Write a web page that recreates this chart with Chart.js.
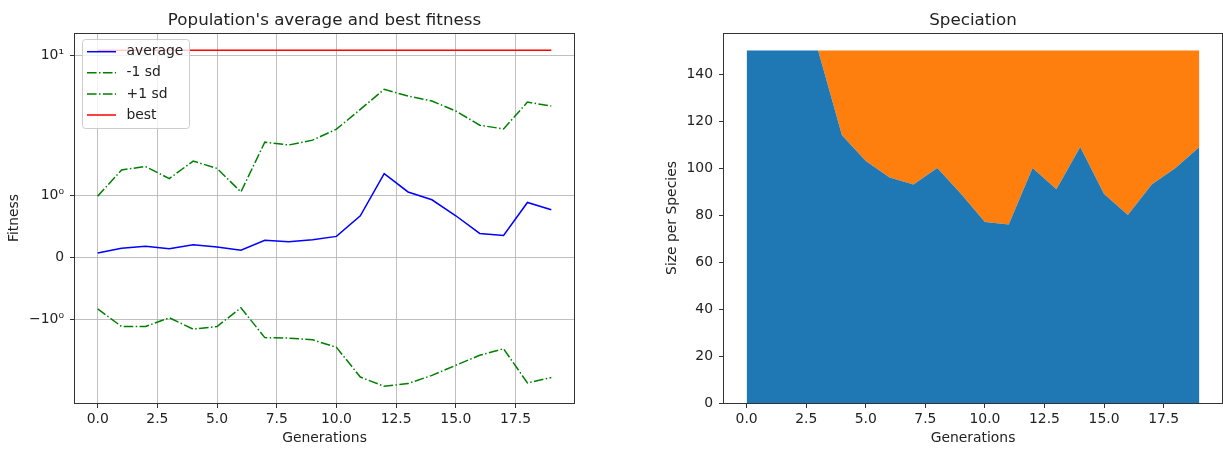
<!DOCTYPE html>
<html>
<head>
<meta charset="utf-8">
<script src="https://cdn.jsdelivr.net/npm/chart.js@4.4.0/dist/chart.umd.min.js"></script>
<style>
  body { margin: 0; background: #fff; }
  canvas { position: absolute; top: 0; }
  #fitnessChart { left: 0; }
  #speciesChart { left: 611px; }
</style>
</head>
<body>
<canvas id="fitnessChart" width="611" height="450"></canvas>
<canvas id="speciesChart" width="612" height="450"></canvas>
<script>
// Data
const generations = [0, 1, 2, 3, 4, 5, 6, 7, 8, 9, 10, 11, 12, 13, 14, 15, 16, 17, 18, 19];
const avgFitness = [0.075, 0.150, 0.182, 0.144, 0.209, 0.171, 0.118, 0.278, 0.257, 0.289,
                    0.342, 0.674, 1.43, 1.06, 0.931, 0.674, 0.390, 0.358, 0.888, 0.770];
const minusSd = [-0.824, -1.116, -1.116, -0.968, -1.166, -1.116, -0.807, -1.34, -1.35, -1.39,
                 -1.57, -2.56, -2.98, -2.85, -2.49, -2.11, -1.79, -1.61, -2.82, -2.58];
const plusSd = [0.99, 1.52, 1.61, 1.32, 1.76, 1.56, 1.06, 2.40, 2.29, 2.48,
                2.97, 4.11, 5.71, 5.11, 4.71, 4.00, 3.17, 2.98, 4.63, 4.34];
const bestFitness = [10.86, 10.86, 10.86, 10.86, 10.86, 10.86, 10.86, 10.86, 10.86, 10.86,
                     10.86, 10.86, 10.86, 10.86, 10.86, 10.86, 10.86, 10.86, 10.86, 10.86];
const species1 = [150, 150, 150, 150, 114, 103, 96, 93, 100, 89, 77, 76, 100, 91, 109, 89, 80, 93, 100, 109];
const species2 = [0, 0, 0, 0, 36, 47, 54, 57, 50, 61, 73, 74, 50, 59, 41, 61, 70, 57, 50, 41];

const genTicks = [0, 2.5, 5, 7.5, 10, 12.5, 15, 17.5];
const fitnessTicks = [-1, 0, 1, 10];
const fitnessTickLabels = ['\u221210\u2070', '0', '10\u2070', '10\u00b9'];
const sizeTicks = [0, 20, 40, 60, 80, 100, 120, 140];

const FONT = '"DejaVu Sans", sans-serif';
const TEXT = '#222';

// symlog scale, linear between -1 and 1
const SYMLOG_DECADE = 2.258;
function symT(v) {
    const a = Math.abs(v);
    return a <= 1 ? v : Math.sign(v) * (1 + SYMLOG_DECADE * Math.log10(a));
}
function symInv(t) {
    const a = Math.abs(t);
    return a <= 1 ? t : Math.sign(t) * Math.pow(10, (a - 1) / SYMLOG_DECADE);
}

class SymlogScale extends Chart.LinearScale {
    configure() {
        super.configure();
        this._t0 = symT(this.min);
        this._t1 = symT(this.max);
    }
    getPixelForValue(value) {
        return this.getPixelForDecimal((symT(value) - this._t0) / (this._t1 - this._t0));
    }
    getValueForPixel(pixel) {
        return symInv(this._t0 + this.getDecimalForPixel(pixel) * (this._t1 - this._t0));
    }
}
SymlogScale.id = 'symlog';
Chart.register(SymlogScale);

// frame, axes title and legend like matplotlib
const mplDecor = {
    id: 'mplDecor',
    afterDraw(chart, args, opts) {
        const { ctx, chartArea: a } = chart;
        ctx.save();
        ctx.strokeStyle = '#333';
        ctx.lineWidth = 1;
        ctx.strokeRect(Math.round(a.left) - 0.5, Math.round(a.top) + 0.5,
                       Math.round(a.right - a.left) + 1, Math.round(a.bottom - a.top));

        ctx.fillStyle = TEXT;
        ctx.font = '16.7px ' + FONT;
        ctx.textAlign = 'center';
        ctx.textBaseline = 'alphabetic';
        ctx.fillText(opts.title, (a.left + a.right) / 2, 25);

        if (opts.legend) {
            ctx.beginPath();
            ctx.roundRect(82.5, 39.5, 107, 89, 3);
            ctx.fillStyle = 'rgba(255,255,255,0.8)';
            ctx.fill();
            ctx.strokeStyle = '#cccccc';
            ctx.stroke();
            ctx.font = '13.9px ' + FONT;
            ctx.textAlign = 'left';
            ctx.textBaseline = 'middle';
            chart.data.datasets.forEach((ds, i) => {
                const y = 51.7 + i * 21.1;
                ctx.strokeStyle = ds.borderColor;
                ctx.lineWidth = ds.borderWidth;
                ctx.setLineDash(ds.borderDash || []);
                ctx.beginPath();
                ctx.moveTo(87, y);
                ctx.lineTo(116, y);
                ctx.stroke();
                ctx.setLineDash([]);
                ctx.fillStyle = TEXT;
                ctx.fillText(ds.label, 126.5, y);
            });
        }
        ctx.restore();
    }
};

const font = { family: FONT, size: 13.9 };
const dashDot = [9.6, 2.4, 1.5, 2.4];

function xAxis(gridOn) {
    return {
        type: 'linear',
        min: -0.95,
        max: 19.95,
        afterBuildTicks: s => { s.ticks = genTicks.map(v => ({ value: v })); },
        afterFit: s => { s.height = 47; },
        ticks: { font, color: TEXT, padding: 3, maxRotation: 0, callback: v => v.toFixed(1) },
        grid: { display: true, drawOnChartArea: gridOn, color: '#b0b0b0', lineWidth: 0.8,
                tickLength: 5, tickColor: '#333', tickWidth: 1 },
        border: { display: false },
        title: { display: true, text: 'Generations', font, color: TEXT, padding: { top: 0, bottom: 3 } }
    };
}

function series(label, values, color, dash) {
    return {
        label,
        data: generations.map((g, i) => ({ x: g, y: values[i] })),
        borderColor: color,
        borderWidth: 1.5,
        borderDash: dash,
        pointRadius: 0,
        tension: 0,
        fill: false
    };
}

// Population fitness chart
new Chart(document.getElementById('fitnessChart'), {
    type: 'line',
    data: {
        datasets: [
            series('average', avgFitness, '#0000ff', []),
            series('-1 sd', minusSd, '#008000', dashDot),
            series('+1 sd', plusSd, '#008000', dashDot),
            series('best', bestFitness, '#ff0000', [])
        ]
    },
    options: {
        responsive: false,
        animation: false,
        layout: { padding: { left: 0, right: 37, top: 33, bottom: 0 } },
        plugins: {
            legend: { display: false },
            tooltip: { enabled: false },
            mplDecor: { title: "Population's average and best fitness", legend: true }
        },
        scales: {
            x: xAxis(true),
            y: {
                type: 'symlog',
                bounds: 'data',
                min: symInv(-2.339),
                max: symInv(3.615),
                afterBuildTicks: s => { s.ticks = fitnessTicks.map(v => ({ value: v })); },
                afterFit: s => { s.width = 75; },
                ticks: { font, color: TEXT, padding: 6, callback: (v, i) => fitnessTickLabels[i] },
                grid: { color: '#b0b0b0', lineWidth: 0.8, tickLength: 5, tickColor: '#333', tickWidth: 1 },
                border: { display: false },
                title: { display: true, text: 'Fitness', font, color: TEXT, padding: { top: 6, bottom: 0 } }
            }
        }
    },
    plugins: [mplDecor]
});

// Speciation chart
new Chart(document.getElementById('speciesChart'), {
    type: 'line',
    data: {
        datasets: [
            {
                label: 'species 1',
                data: generations.map((g, i) => ({ x: g, y: species1[i] })),
                backgroundColor: '#1f77b4',
                borderWidth: 0,
                pointRadius: 0,
                fill: 'origin'
            },
            {
                label: 'species 2',
                data: generations.map((g, i) => ({ x: g, y: species2[i] })),
                backgroundColor: '#ff7f0e',
                borderWidth: 0,
                pointRadius: 0,
                fill: '-1'
            }
        ]
    },
    options: {
        responsive: false,
        animation: false,
        layout: { padding: { left: 52, right: 1, top: 33, bottom: 0 } },
        plugins: {
            legend: { display: false },
            tooltip: { enabled: false },
            mplDecor: { title: 'Speciation', legend: false }
        },
        scales: {
            x: xAxis(false),
            y: {
                type: 'linear',
                stacked: true,
                min: 0,
                max: 157.5,
                afterBuildTicks: s => { s.ticks = sizeTicks.map(v => ({ value: v })); },
                afterFit: s => { s.width = 61; },
                ticks: { font, color: TEXT, padding: 6 },
                grid: { drawOnChartArea: false, tickLength: 5, tickColor: '#333', tickWidth: 1 },
                border: { display: false },
                title: { display: true, text: 'Size per Species', font, color: TEXT, padding: { top: 1, bottom: 0 } }
            }
        }
    },
    plugins: [mplDecor]
});
</script>
</body>
</html>
